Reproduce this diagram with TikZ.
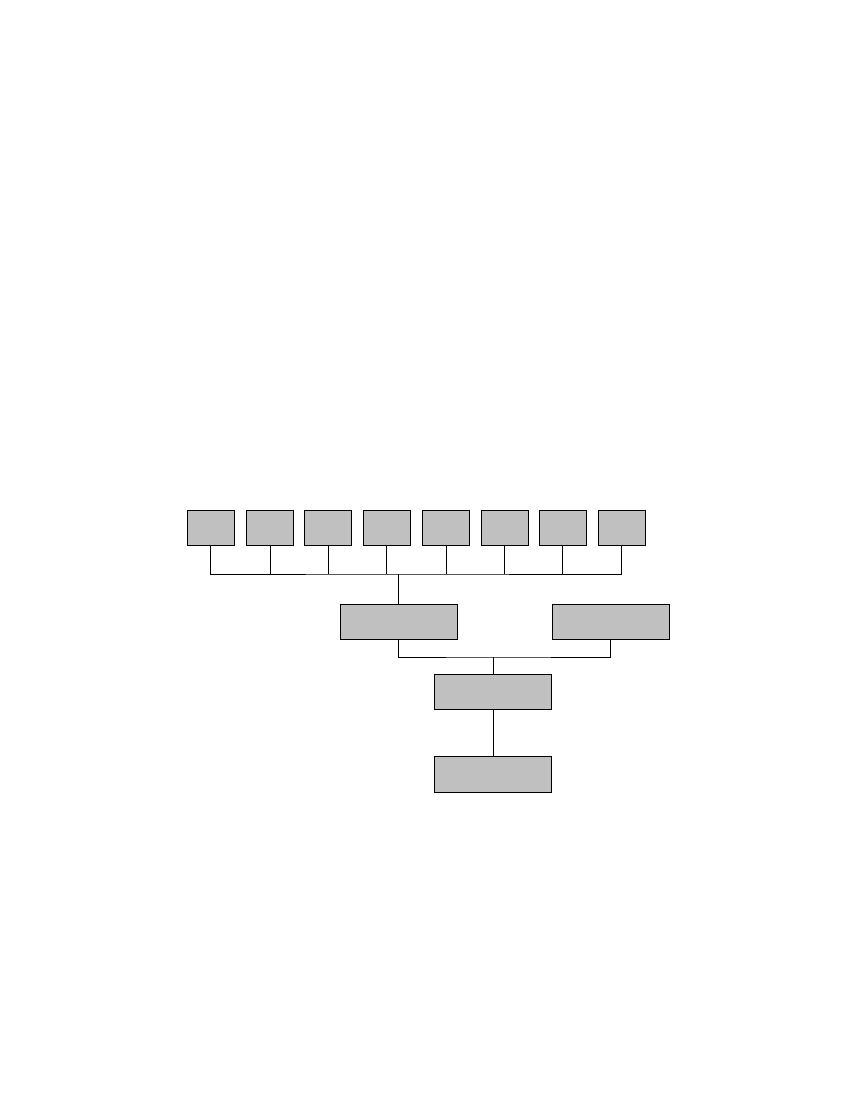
\documentclass[tikz,border=0pt]{standalone}
\usepackage{tikz}

\tikzset{every picture/.style={line width=0.75pt}}
\tikzset{
  box/.style={draw, fill={rgb, 255:red, 192; green, 192; blue, 192}, inner sep=0pt, outer sep=0pt},
  smallbox/.style={box, minimum width=35.25pt, minimum height=26.25pt},
  widebox/.style={box, minimum width=87.75pt, minimum height=26.25pt}
}

\begin{document}
\begin{tikzpicture}[x=0.75pt,y=0.75pt,yscale=-1,xscale=1]
	\useasboundingbox (0,0) rectangle (850,1100);
	%Shape: Rectangle, top row
	\node [smallbox] (t1) at (210.8,527.8) {};
	\node [smallbox] (t2) at (270,527.8) {};
	\node [smallbox] (t3) at (328,527.8) {};
	\node [smallbox] (t4) at (386.8,527.8) {};
	\node [smallbox] (t5) at (446,527.8) {};
	\node [smallbox] (t6) at (504.8,527.8) {};
	\node [smallbox] (t7) at (562.8,527.8) {};
	\node [smallbox] (t8) at (621.8,527.8) {};
	%Shape: Rectangle, middle row
	\node [widebox] (m1) at (398.8,621.8) {};
	\node [widebox] (m2) at (610.5,621.8) {};
	%Shape: Rectangle, lower boxes
	\node [widebox] (c1) at (493,691.8) {};
	\node [widebox, minimum height=27pt] (b1) at (493,774.3) {};
	
	%Straight Lines, top bus
	\coordinate (topbus) at (398.8,574);
	\draw (t1.south) |- (topbus) -| (t8.south);
	\draw (t2.south) -- (t2.south |- topbus);
	\draw (t3.south) -- (t3.south |- topbus);
	\draw (t4.south) -- (t4.south |- topbus);
	\draw (t5.south) -- (t5.south |- topbus);
	\draw (t6.south) -- (t6.south |- topbus);
	\draw (t7.south) -- (t7.south |- topbus);
	\draw (topbus) -- (m1.north);
	%Straight Lines, lower bus
	\coordinate (lowbus) at (493,657);
	\draw (m1.south) |- (lowbus) -| (m2.south);
	\draw (lowbus) -- (c1.north);
	\draw (c1.south) -- (b1.north);
\end{tikzpicture}
\end{document}
